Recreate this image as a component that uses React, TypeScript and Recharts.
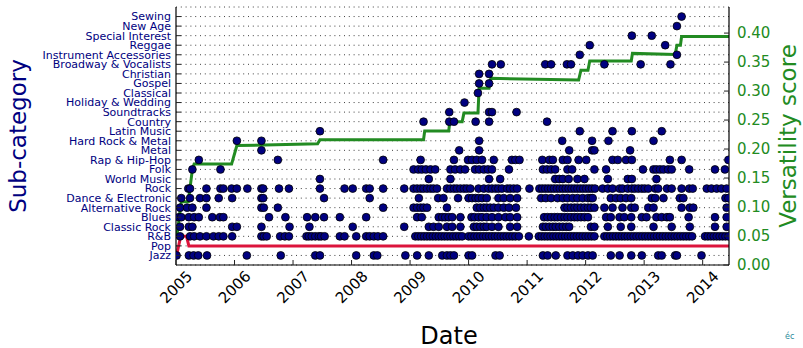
import React from 'react';
import { ComposedChart, Scatter, Line, XAxis, YAxis, CartesianGrid } from 'recharts';

const CATEGORIES = [
  'Jazz', 'Pop', 'R&B', 'Classic Rock', 'Blues', 'Alternative Rock', 'Dance & Electronic', 'Rock',
  'World Music', 'Folk', 'Rap & Hip-Hop', 'Metal', 'Hard Rock & Metal', 'Latin Music', 'Country',
  'Soundtracks', 'Holiday & Wedding', 'Classical', 'Gospel', 'Christian', 'Broadway & Vocalists',
  'Instrument Accessories', 'Reggae', 'Special Interest', 'New Age', 'Sewing',
];
const CATEGORY_TICKS = [0, 1, 2, 3, 4, 5, 6, 7, 8, 9, 10, 11, 12, 13, 14, 15, 16, 17, 18, 19, 20, 21, 22, 23, 24, 25];
const YEAR_TICKS = [2005, 2006, 2007, 2008, 2009, 2010, 2011, 2012, 2013, 2014];
const SCORE_TICKS = [0, 0.05, 0.1, 0.15, 0.2, 0.25, 0.3, 0.35, 0.4];

// Purchase dates (decimal years) per sub-category
const JAZZ = [2005.01, 2005.22, 2005.30, 2005.38, 2005.53, 2006.21, 2006.79, 2007.38, 2007.46, 2008.08, 2008.38, 2008.44, 2008.92, 2009.12, 2009.32, 2009.55, 2009.63, 2009.69, 2009.75, 2010.00, 2010.06, 2010.46, 2010.53, 2011.27, 2011.35, 2011.49, 2011.69, 2011.78, 2011.87, 2011.95, 2012.04, 2012.12, 2012.43, 2012.58, 2012.78, 2012.96, 2013.24, 2013.30, 2013.53, 2013.56, 2013.98];
const POP: number[] = [];
const RNB = [2005.07, 2005.24, 2005.31, 2005.41, 2005.52, 2005.64, 2005.73, 2005.81, 2005.96, 2006.46, 2006.50, 2006.55, 2006.78, 2006.86, 2006.93, 2007.23, 2007.27, 2007.32, 2007.38, 2007.44, 2007.48, 2007.54, 2007.80, 2007.88, 2008.08, 2008.25, 2008.31, 2008.38, 2008.45, 2008.54,
  2009.09, 2009.14, 2009.19, 2009.24, 2009.29, 2009.34, 2009.39, 2009.44, 2009.49, 2009.54, 2009.59, 2009.64, 2009.69, 2009.74, 2009.79, 2009.84, 2009.89,
  2010.00, 2010.05, 2010.10, 2010.15, 2010.20, 2010.25, 2010.30, 2010.35, 2010.40, 2010.45, 2010.50, 2010.55, 2010.60, 2010.65, 2010.70, 2010.75, 2010.80, 2010.86,
  2011.03, 2011.20, 2011.25, 2011.30, 2011.35, 2011.40, 2011.45, 2011.50, 2011.55, 2011.60, 2011.65, 2011.70, 2011.75, 2011.80, 2011.85, 2011.90, 2011.95, 2012.00, 2012.05, 2012.10, 2012.15,
  2012.32, 2012.37, 2012.42, 2012.47, 2012.52, 2012.57, 2012.62, 2012.67, 2012.72, 2012.77, 2012.82, 2012.87, 2012.92, 2012.97, 2013.02, 2013.07, 2013.12, 2013.17, 2013.22, 2013.27, 2013.32, 2013.37, 2013.42, 2013.47, 2013.52, 2013.57, 2013.62, 2013.67, 2013.72, 2013.77, 2013.82,
  2014.04, 2014.09, 2014.14, 2014.19, 2014.24, 2014.29, 2014.34, 2014.39, 2014.44];
const CLASSIC_ROCK = [2005.07, 2005.22, 2005.28, 2005.96, 2006.04, 2006.46, 2006.94, 2007.28, 2008.02, 2008.90, 2009.32, 2009.40, 2009.49, 2009.63, 2009.72, 2009.86, 2010.09, 2010.14, 2010.20, 2010.26, 2010.31, 2010.40, 2010.51, 2010.71, 2010.83, 2011.27, 2011.32, 2011.38, 2011.44, 2011.49, 2011.55, 2011.61, 2011.67, 2011.72, 2012.09, 2012.15, 2012.38, 2012.60, 2012.78, 2013.16, 2013.47, 2013.78, 2014.21, 2014.41];
const BLUES = [2005.05, 2005.09, 2005.22, 2005.31, 2005.39, 2005.62, 2005.75, 2005.81, 2006.59, 2006.87, 2007.24, 2007.38, 2007.53, 2007.80, 2008.25, 2009.12, 2009.20, 2009.49, 2009.55, 2009.60, 2009.66, 2009.72, 2009.86, 2010.05, 2010.10, 2010.17, 2010.23, 2010.31, 2010.40, 2010.51, 2010.63, 2010.71, 2010.83, 2011.29, 2011.35, 2011.41, 2011.47, 2011.52, 2011.58, 2011.64, 2011.69, 2011.75, 2011.81, 2011.86, 2011.92, 2011.98, 2012.04, 2012.35, 2012.43, 2012.58, 2012.66, 2012.78, 2012.96, 2013.04, 2013.21, 2013.30, 2013.39, 2013.44, 2013.76, 2014.21, 2014.41];
const ALT_ROCK = [2005.07, 2005.19, 2005.28, 2005.52, 2006.46, 2006.50, 2006.74, 2008.54, 2009.06, 2009.12, 2009.18, 2009.23, 2009.29, 2009.63, 2010.14, 2010.20, 2010.26, 2010.31, 2010.37, 2010.43, 2010.51, 2010.60, 2010.69, 2010.81, 2011.64, 2011.69, 2011.75, 2011.81, 2011.86, 2011.92, 2011.98, 2012.04, 2012.09, 2012.15, 2012.32, 2012.46, 2012.63, 2012.78, 2012.84, 2013.07, 2013.16, 2013.64, 2013.78, 2013.84, 2014.41];
const DANCE = [2005.09, 2005.24, 2005.41, 2005.52, 2005.73, 2005.96, 2006.46, 2006.49, 2007.53, 2008.31, 2009.15, 2009.48, 2009.57, 2009.82, 2010.00, 2010.06, 2010.12, 2010.17, 2010.23, 2010.31, 2010.51, 2010.60, 2010.71, 2010.83, 2011.24, 2011.32, 2011.41, 2011.52, 2011.61, 2011.69, 2011.78, 2011.86, 2011.95, 2012.04, 2012.09, 2012.12, 2012.43, 2012.52, 2012.60, 2012.69, 2012.78, 2013.13, 2013.19, 2013.33, 2013.61, 2013.67, 2014.39, 2014.44];
const ROCK = [2005.21, 2005.24, 2005.52, 2005.76, 2005.81, 2005.95, 2006.04, 2006.22, 2006.46, 2006.49, 2006.76, 2006.93, 2007.46, 2007.88, 2008.02, 2008.25, 2008.31, 2008.54, 2008.90, 2009.06, 2009.12, 2009.18, 2009.23, 2009.29, 2009.35, 2009.40, 2009.46, 2009.63, 2009.69, 2009.75, 2009.80, 2009.86, 2009.92, 2009.97, 2010.03, 2010.17, 2010.26, 2010.34, 2010.40, 2010.46, 2010.51, 2010.57, 2010.66, 2010.71, 2010.77, 2010.83,
  2011.04, 2011.21, 2011.26, 2011.31, 2011.36, 2011.41, 2011.46, 2011.51, 2011.56, 2011.61, 2011.66, 2011.71, 2011.76, 2011.81, 2011.86, 2011.91, 2011.96, 2012.01, 2012.06, 2012.11, 2012.16,
  2012.29, 2012.38, 2012.46, 2012.58, 2012.63, 2012.72, 2012.79, 2012.84, 2012.90, 2012.96, 2013.01, 2013.07, 2013.19, 2013.24, 2013.39, 2013.47, 2013.64, 2013.77, 2013.83, 2014.07, 2014.15, 2014.24, 2014.32, 2014.41];
const WORLD = [2007.46, 2009.32, 2009.69, 2010.35, 2010.54, 2011.48, 2011.55, 2011.61, 2011.71, 2011.86, 2011.98, 2012.38, 2012.72, 2012.79, 2013.21];
const FOLK = [2005.28, 2005.76, 2009.06, 2009.14, 2009.20, 2009.27, 2009.35, 2009.43, 2009.69, 2009.77, 2009.86, 2009.94, 2010.11, 2010.18, 2010.26, 2010.33, 2010.40, 2010.69, 2011.27, 2011.34, 2011.41, 2011.48, 2011.69, 2011.77, 2012.15, 2012.35, 2012.98, 2013.16, 2013.21, 2013.27, 2013.33, 2013.41, 2013.47, 2013.77, 2014.21, 2014.38];
const RAP = [2005.39, 2006.74, 2008.54, 2009.18, 2009.75, 2009.99, 2010.06, 2010.14, 2010.23, 2010.43, 2010.74, 2010.80, 2010.87, 2011.26, 2011.38, 2011.44, 2011.61, 2011.69, 2011.88, 2012.01, 2012.46, 2012.55, 2012.69, 2012.79, 2013.44, 2013.64, 2014.44];
const METAL = [2006.46, 2009.84, 2010.18, 2011.72, 2012.11, 2012.15, 2012.76];
const HARD_ROCK = [2006.04, 2006.46, 2010.18, 2011.60, 2012.11, 2012.39, 2013.16];
const LATIN = [2007.46, 2011.90, 2012.46, 2012.79, 2013.30];
const COUNTRY = [2009.23, 2009.67, 2009.75, 2010.12, 2010.35, 2011.34];
const SOUNDTRACKS = [2009.67, 2010.35, 2010.40, 2010.82];
const HOLIDAY = [2009.93];
const CLASSICAL = [2010.16];
const GOSPEL = [2010.18, 2010.35];
const CHRISTIAN = [2010.18, 2010.35];
const BROADWAY = [2010.40, 2010.55, 2011.31, 2011.41, 2011.68, 2011.75, 2012.32, 2012.94, 2013.45];
const INSTRUMENT = [2011.90, 2013.56];
const REGGAE = [2012.07, 2013.36];
const SPECIAL = [2012.79, 2013.13];
const NEW_AGE = [2013.56];
const SEWING = [2013.64];

const DATES_BY_CATEGORY: number[][] = [
  JAZZ, POP, RNB, CLASSIC_ROCK, BLUES, ALT_ROCK, DANCE, ROCK, WORLD, FOLK, RAP, METAL, HARD_ROCK,
  LATIN, COUNTRY, SOUNDTRACKS, HOLIDAY, CLASSICAL, GOSPEL, CHRISTIAN, BROADWAY, INSTRUMENT, REGGAE,
  SPECIAL, NEW_AGE, SEWING,
];

// Versatility score (right axis)
const SCORE_DATES = [2005.01, 2005.09, 2005.21, 2005.28, 2005.31, 2005.95, 2006.04, 2007.42, 2007.46, 2009.23, 2009.25, 2009.66, 2009.68, 2009.89, 2009.92, 2010.16, 2010.18, 2010.35, 2010.38, 2011.88, 2011.92, 2012.04, 2012.07, 2012.78, 2012.80, 2013.53, 2013.56, 2013.62, 2013.64, 2014.45];
const SCORE_VALUES = [0.046, 0.109, 0.109, 0.165, 0.174, 0.174, 0.206, 0.209, 0.216, 0.216, 0.231, 0.231, 0.247, 0.247, 0.262, 0.262, 0.305, 0.305, 0.322, 0.319, 0.336, 0.336, 0.352, 0.352, 0.365, 0.363, 0.379, 0.379, 0.394, 0.394];

// Dominant sub-category (red line)
const PRIMARY_DATES = [2005.01, 2005.08, 2005.18, 2005.22, 2014.45];
const PRIMARY_CATS = [0, 2, 2, 1, 1];

const scatterData = DATES_BY_CATEGORY.flatMap((dates, i) => dates.map((d) => ({ x: d, y: i })));
const scoreData = SCORE_DATES.map((d, i) => ({ x: d, v: SCORE_VALUES[i] }));
const primaryData = PRIMARY_DATES.map((d, i) => ({ x: d, y: PRIMARY_CATS[i] }));

const FONT = 'DejaVu Sans';
const NAVY = '#000080';
const GREEN = '#228B22';

const CatTick = (props: any) => {
  const { x, y, payload } = props;
  return (
    <g>
      <line x1={x} x2={x + 5} y1={y} y2={y} stroke="#222" strokeWidth={1} />
      <text x={x - 5} y={y} dy="0.35em" textAnchor="end" fontSize={11} fill={NAVY} fontFamily={FONT}>
        {CATEGORIES[payload.value]}
      </text>
    </g>
  );
};

const ScoreTick = (props: any) => {
  const { x, y, payload } = props;
  return (
    <g>
      <line x1={x} x2={x - 5} y1={y} y2={y} stroke="#222" strokeWidth={1} />
      <text x={x + 8} y={y} dy="0.35em" textAnchor="start" fontSize={15} fill={GREEN} fontFamily={FONT}>
        {Number(payload.value).toFixed(2)}
      </text>
    </g>
  );
};

const YearTick = (props: any) => {
  const { x, y, payload } = props;
  return (
    <g>
      <line x1={x} x2={x} y1={y} y2={y - 5} stroke="#222" strokeWidth={1} />
      <text
        transform={`translate(${x},${y + 22}) rotate(-45)`}
        textAnchor="middle"
        dy="0.35em"
        fontSize={15}
        fill="#000"
        fontFamily={FONT}
      >
        {payload.value}
      </text>
    </g>
  );
};

const TopTick = (props: any) => {
  const { x, y } = props;
  return <line x1={x} x2={x} y1={y} y2={y + 5} stroke="#222" strokeWidth={1} />;
};

const Dot = (props: any) => {
  const { cx, cy } = props;
  if (cx == null || cy == null) return <g />;
  return <circle cx={cx} cy={cy} r={3.9} fill={NAVY} stroke="#000" strokeWidth={0.8} />;
};

export default function App() {
  return (
    <div style={{ position: 'absolute', left: 0, top: 0, width: 803, height: 348, background: '#fff', fontFamily: FONT }}>
      <ComposedChart width={803} height={348} margin={{ top: 7, right: 0, bottom: 0, left: 0 }}>
        <CartesianGrid
          xAxisId="b"
          yAxisId="cat"
          vertical={false}
          stroke="#000"
          strokeOpacity={0.75}
          strokeDasharray="1 3.8"
        />
        <XAxis
          xAxisId="b"
          dataKey="x"
          type="number"
          domain={[2005, 2014.45]}
          ticks={YEAR_TICKS}
          interval={0}
          allowDataOverflow
          height={83}
          tickSize={0}
          tickMargin={0}
          tickLine={false}
          axisLine={{ stroke: '#000', strokeWidth: 1.2 }}
          tick={YearTick}
        />
        <XAxis
          xAxisId="t"
          orientation="top"
          dataKey="x"
          type="number"
          domain={[2005, 2014.45]}
          ticks={YEAR_TICKS}
          interval={0}
          allowDataOverflow
          height={0}
          tickSize={0}
          tickMargin={0}
          tickLine={false}
          axisLine={{ stroke: '#000', strokeWidth: 1.2 }}
          tick={TopTick}
        />
        <YAxis
          yAxisId="cat"
          type="number"
          domain={[-1, 26]}
          ticks={CATEGORY_TICKS}
          interval={0}
          allowDataOverflow
          width={176}
          tickSize={0}
          tickMargin={0}
          tickLine={false}
          axisLine={{ stroke: '#000', strokeWidth: 1.2 }}
          tick={CatTick}
        />
        <YAxis
          yAxisId="score"
          orientation="right"
          type="number"
          domain={[0, 0.445]}
          ticks={SCORE_TICKS}
          interval={0}
          allowDataOverflow
          width={74}
          tickSize={0}
          tickMargin={0}
          tickLine={false}
          axisLine={{ stroke: '#000', strokeWidth: 1.2 }}
          tick={ScoreTick}
        />
        <Scatter
          xAxisId="b"
          yAxisId="cat"
          data={scatterData}
          dataKey="y"
          shape={Dot}
          isAnimationActive={false}
        />
        <Line
          xAxisId="b"
          yAxisId="score"
          data={scoreData}
          dataKey="v"
          type="linear"
          stroke={GREEN}
          strokeWidth={3}
          dot={false}
          isAnimationActive={false}
        />
        <Line
          xAxisId="b"
          yAxisId="cat"
          data={primaryData}
          dataKey="y"
          type="linear"
          stroke="#DC143C"
          strokeWidth={3}
          dot={false}
          isAnimationActive={false}
        />
      </ComposedChart>
      <svg width={803} height={348} style={{ position: 'absolute', left: 0, top: 0, pointerEvents: 'none' }}>
        <text transform="translate(26,136) rotate(-90)" textAnchor="middle" fontSize={23} fill={NAVY} fontFamily={FONT}>
          Sub-category
        </text>
        <text transform="translate(796,136) rotate(-90)" textAnchor="middle" fontSize={23} fill={GREEN} fontFamily={FONT}>
          Versatility score
        </text>
        <text x={449} y={344} textAnchor="middle" fontSize={24} fill="#000" fontFamily={FONT}>
          Date
        </text>
        <text x={785} y={339} fontSize={8} fill="#2a8a9a" fontFamily={FONT}>
          éc
        </text>
      </svg>
    </div>
  );
}
